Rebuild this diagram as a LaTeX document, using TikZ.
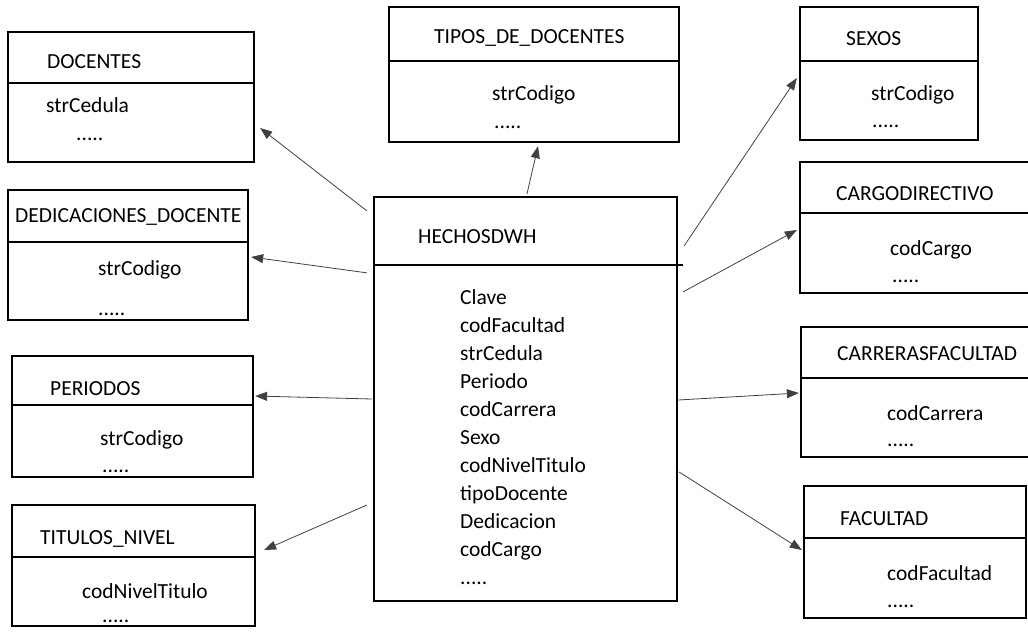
\documentclass[tikz,border=0pt]{standalone}
\usepackage{fontspec}
\setmainfont{Carlito}
\usetikzlibrary{arrows.meta,calc}

\begin{document}
\begin{tikzpicture}[x=1pt, y=-1pt, font=\fontsize{21.5}{28}\selectfont,
  tabla/.style={draw, line width=2.3pt, inner sep=0pt},
  linea/.style={line width=2.3pt},
  campo/.style={anchor=base west, inner sep=0pt},
  arr/.style={-{Triangle[length=12pt,width=9pt]}, line width=0.8pt, black!75}]
\useasboundingbox (0,0) rectangle (1028,638);
\clip (0,0) rectangle (1028,638);

% tabla de hechos
\node[tabla, minimum width=303pt, minimum height=404pt] (hechos) at (525.5,399) {};
\draw[linea] (hechos.west |- 0,265) -- (683,265);
\node[campo] (hechos-t) at (418,243) {HECHOSDWH};
\foreach \c [count=\i] in {Clave,codFacultad,strCedula,Periodo,codCarrera,Sexo,codNivelTitulo,tipoDocente,Dedicacion,codCargo}
  \node[campo] (hechos-\i) at (460,{304+28*(\i-1)}) {\c};
\node[campo] (hechos-11) at (460,584) {.....};

% dimensiones, lado izquierdo
\node[tabla, minimum width=246pt, minimum height=130pt] (docentes) at (131,97) {};
\draw[linea] (docentes.west |- 0,83) -- (docentes.east |- 0,83);
\node[campo] (docentes-t) at (47,68) {DOCENTES};
\node[campo] (docentes-1) at (46,112) {strCedula};
\node[campo] (docentes-2) at (76,140) {.....};

\node[tabla, minimum width=240pt, minimum height=130pt] (dedicaciones) at (128,255) {};
\draw[linea] (dedicaciones.west |- 0,242) -- (dedicaciones.east |- 0,242);
\node[campo] (dedicaciones-t) at (15,222) {DEDICACIONES\_DOCENTE};
\node[campo] (dedicaciones-1) at (98,275) {strCodigo};
\node[campo] (dedicaciones-2) at (98,315) {.....};

\node[tabla, minimum width=241pt, minimum height=121pt] (periodos) at (132.5,416.5) {};
\draw[linea] (periodos.west |- 0,405) -- (periodos.east |- 0,405);
\node[campo] (periodos-t) at (50,395) {PERIODOS};
\node[campo] (periodos-1) at (100,445) {strCodigo};
\node[campo] (periodos-2) at (102,472) {.....};

\node[tabla, minimum width=243pt, minimum height=121pt] (titulos) at (133.5,565.5) {};
\draw[linea] (titulos.west |- 0,557) -- (titulos.east |- 0,557);
\node[campo] (titulos-t) at (40,544) {TITULOS\_NIVEL};
\node[campo] (titulos-1) at (82,598) {codNivelTitulo};
\node[campo] (titulos-2) at (102,622) {.....};

% dimensiones, arriba y lado derecho
\node[tabla, minimum width=290pt, minimum height=135pt] (tipos) at (534,74.5) {};
\draw[linea] (tipos.west |- 0,61) -- (tipos.east |- 0,61);
\node[campo] (tipos-t) at (434,43) {TIPOS\_DE\_DOCENTES};
\node[campo] (tipos-1) at (492,100) {strCodigo};
\node[campo] (tipos-2) at (494,128) {.....};

\node[tabla, minimum width=178pt, minimum height=133pt] (sexos) at (889,73.5) {};
\draw[linea] (sexos.west |- 0,61) -- (sexos.east |- 0,61);
\node[campo] (sexos-t) at (846,45) {SEXOS};
\node[campo] (sexos-1) at (871,100) {strCodigo};
\node[campo] (sexos-2) at (872,127) {.....};

\node[tabla, minimum width=260pt, minimum height=131pt] (cargo) at (930,227.5) {};
\draw[linea] (cargo.west |- 0,213) -- (cargo.east |- 0,213);
\node[campo] (cargo-t) at (836,200) {CARGODIRECTIVO};
\node[campo] (cargo-1) at (890,255) {codCargo};
\node[campo] (cargo-2) at (892,282) {.....};

\node[tabla, minimum width=259pt, minimum height=130pt] (carreras) at (930.5,392) {};
\draw[linea] (carreras.west |- 0,378) -- (carreras.east |- 0,378);
\node[campo] (carreras-t) at (837,360) {CARRERASFACULTAD};
\node[campo] (carreras-1) at (887,420) {codCarrera};
\node[campo] (carreras-2) at (887,446) {.....};

\node[tabla, minimum width=222pt, minimum height=132pt] (facultad) at (915,552) {};
\draw[linea] (facultad.west |- 0,538) -- (facultad.east |- 0,538);
\node[campo] (facultad-t) at (840,525) {FACULTAD};
\node[campo] (facultad-1) at (887,580) {codFacultad};
\node[campo] (facultad-2) at (887,607) {.....};

% relaciones
\draw[arr] ($(hechos.north west)+(-6,15)$) -- ($(docentes.east)+(5,31)$);
\draw[arr] ($(hechos.north west)+(-6,77)$) -- ($(dedicaciones.east)+(2,2)$);
\draw[arr] ($(hechos.west)+(-1,0)$) -- ($(periodos.east)+(1,-20.5)$);
\draw[arr] ($(hechos.west)+(-6,106)$) -- ($(titulos.east)+(8,-15.5)$);
\draw[arr] ($(hechos.north)+(1.5,-2)$) -- ($(tipos.south)+(4,3)$);
\draw[arr] ($(hechos.north east)+(6,50)$) -- ($(sexos.west)+(-2,4.5)$);
\draw[arr] ($(hechos.north east)+(5,96)$) -- ($(cargo.west)+(-2,2.5)$);
\draw[arr] ($(hechos.east)+(0,1)$) -- ($(carreras.west)+(-1,1)$);
\draw[arr] ($(hechos.east)+(1,73)$) -- ($(facultad.west)+(-1,-2)$);
\end{tikzpicture}
\end{document}
